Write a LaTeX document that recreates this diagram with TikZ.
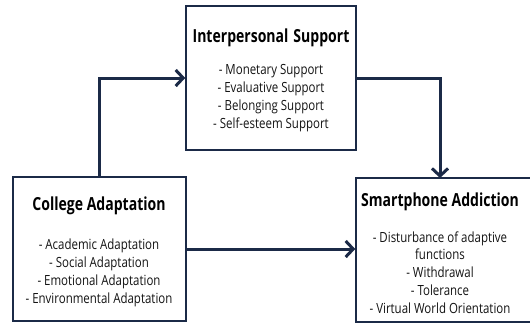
\documentclass[tikz,border=0pt]{standalone}
\usepackage{fontspec}
\setmainfont{Open Sans}[FakeStretch=0.82]
\newfontfamily\ttlfont{Open Sans}[FakeStretch=0.78]
\usetikzlibrary{arrows.meta}
\definecolor{navy}{HTML}{1B2A47}
\definecolor{txt}{HTML}{141414}
\tikzset{
  box/.style={draw=navy, line width=1.5pt, fill=white, inner sep=0pt},
  ttl/.style={font=\ttlfont\fontsize{18}{20}\selectfont\bfseries, text=black, inner sep=0pt, anchor=base},
  items/.style={font=\fontsize{14}{17.8}\selectfont, text=txt, align=center, inner sep=0pt, anchor=base},
  arr/.style={draw=navy, line width=3pt, -{Straight Barb[length=7.5pt,width=16pt,line width=3pt]}},
}
\begin{document}
\begin{tikzpicture}[x=1pt,y=-1pt]
\clip (0,0) rectangle (530,322);
\fill[white] (0,0) rectangle (530,322);
% boxes
\node[box, minimum width=170pt, minimum height=144pt] (ip) at (271,78) {};
\node[box, minimum width=173pt, minimum height=144pt] (ca) at (99.5,249) {};
\node[box, minimum width=178pt, minimum height=144pt] (sa) at (445,250) {};
% texts (items anchored at the baseline of their last line)
\node[ttl] (ipt) at (271,42.7) {Interpersonal\hspace{5pt}Support};
\node[items] (ipi) at (271,128.3) {- Monetary Support\\- Evaluative Support\\- Belonging Support\\- Self-esteem Support};
\node[ttl] (cat) at (99,210.7) {College Adaptation};
\node[items] (cai) at (99,303) {- Academic Adaptation\\- Social Adaptation\\- Emotional Adaptation\\- Environmental Adaptation};
\node[ttl] (sat) at (440,206) {Smartphone Addiction};
\node[items] (sai) at (440,313.3) {- Disturbance of adaptive\\functions\\- Withdrawal\\- Tolerance\\- Virtual World Orientation};
% connectors
\coordinate (t) at (440,178);
\draw[arr] (ca.north) |- (ip.west);
\draw[arr] (ip.east) -| (t);
\draw[arr] (ca.east) -- (ca.east -| sa.west);
\end{tikzpicture}
\end{document}
